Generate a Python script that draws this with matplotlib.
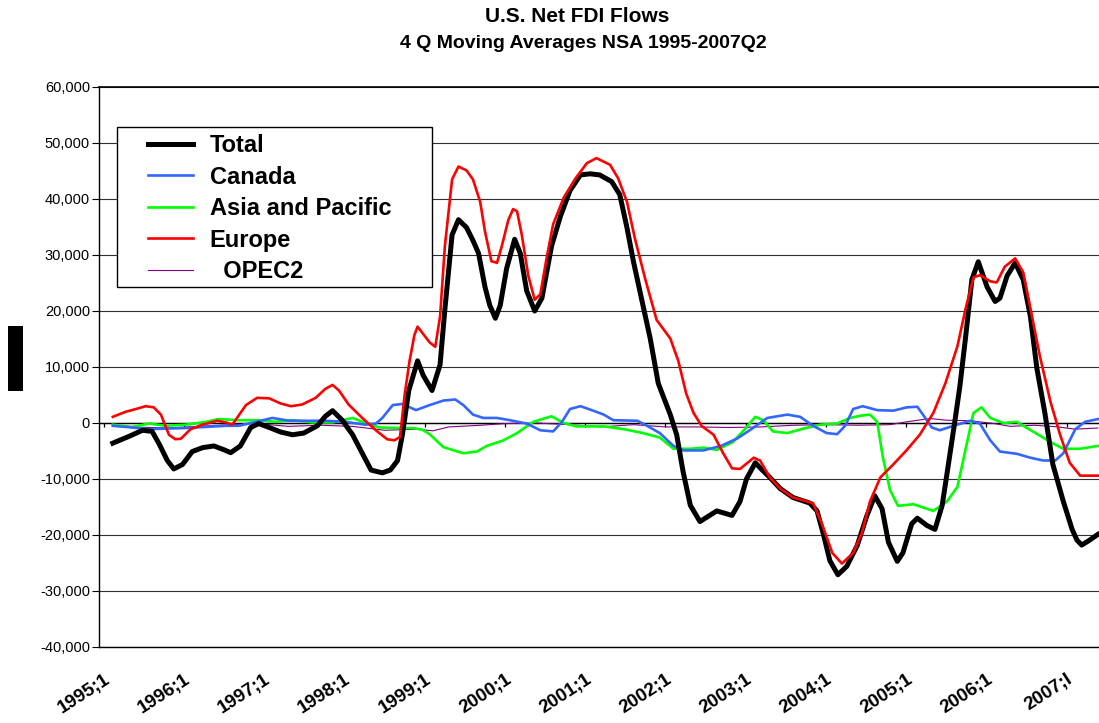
from typing import *
import matplotlib
matplotlib.use('Agg')
import matplotlib.pyplot as plt
from matplotlib.lines import Line2D
from matplotlib.patches import Rectangle
from matplotlib.ticker import FuncFormatter

plt.rcParams['font.family'] = ['Liberation Sans', 'DejaVu Sans']

# (decimal year, millions of dollars)
total: List[Tuple[float, float]] = [
    (1995.11, -3600), (1995.31, -2400), (1995.48, -1300), (1995.60, -1500), (1995.69, -3800),
    (1995.79, -6700), (1995.87, -8200), (1995.98, -7400), (1996.10, -5100), (1996.23, -4400),
    (1996.37, -4100), (1996.50, -4800), (1996.58, -5300), (1996.70, -4100), (1996.83, -800),
    (1996.93, -100), (1997.06, -800), (1997.20, -1600), (1997.35, -2100), (1997.49, -1800),
    (1997.66, -500), (1997.76, 1200), (1997.85, 2200), (1997.97, 500), (1998.10, -2100),
    (1998.22, -5400), (1998.33, -8400), (1998.47, -8900), (1998.57, -8400), (1998.66, -6700),
    (1998.72, -2100), (1998.80, 5800), (1998.91, 11100), (1998.98, 8500), (1999.09, 5800),
    (1999.19, 10400), (1999.25, 20300), (1999.34, 33600), (1999.42, 36300), (1999.52, 34900),
    (1999.60, 32600), (1999.67, 30300), (1999.75, 24300), (1999.81, 21000), (1999.88, 18700),
    (1999.94, 21000), (2000.02, 27600), (2000.12, 32800), (2000.19, 30300), (2000.27, 23600),
    (2000.37, 20000), (2000.46, 22300), (2000.58, 31600), (2000.69, 36900), (2000.81, 41500),
    (2000.94, 44300), (2001.06, 44500), (2001.18, 44300), (2001.33, 43100), (2001.43, 40800),
    (2001.52, 34900), (2001.60, 28900), (2001.70, 22300), (2001.81, 15100), (2001.91, 7100),
    (2002.06, 1500), (2002.14, -2100), (2002.22, -8700), (2002.31, -14700), (2002.43, -17600),
    (2002.54, -16600), (2002.64, -15700), (2002.83, -16500), (2002.93, -14000), (2003.01, -10000),
    (2003.12, -7100), (2003.20, -8300), (2003.30, -9700), (2003.43, -11700), (2003.59, -13300),
    (2003.80, -14300), (2003.89, -15700), (2003.97, -19900), (2004.05, -24600), (2004.15, -27100),
    (2004.26, -25600), (2004.39, -21900), (2004.51, -16600), (2004.61, -13000), (2004.70, -15300),
    (2004.78, -21300), (2004.89, -24700), (2004.96, -23200), (2005.07, -18000), (2005.14, -17000),
    (2005.26, -18300), (2005.36, -19000), (2005.45, -14700), (2005.52, -8100), (2005.61, 500),
    (2005.67, 6500), (2005.74, 15100), (2005.82, 25600), (2005.90, 28800), (2006.01, 24300),
    (2006.11, 21700), (2006.17, 22300), (2006.26, 26300), (2006.36, 28600), (2006.46, 25600),
    (2006.55, 19000), (2006.63, 9800), (2006.73, 1800), (2006.83, -7400), (2006.96, -14000),
    (2007.07, -19000), (2007.13, -20900), (2007.19, -21800), (2007.29, -20900), (2007.39, -19900),
]

canada: List[Tuple[float, float]] = [
    (1995.11, -500), (1995.35, -800), (1995.56, -1100), (1995.77, -1000), (1996.02, -900),
    (1996.27, -700), (1996.52, -500), (1996.68, -500), (1996.89, 200), (1997.10, 900),
    (1997.31, 400), (1997.51, 400), (1997.76, 400), (1998.01, 200), (1998.26, -300),
    (1998.39, -100), (1998.47, 900), (1998.60, 3200), (1998.72, 3400), (1998.89, 2300),
    (1999.06, 3200), (1999.23, 4000), (1999.38, 4200), (1999.48, 3200), (1999.60, 1500),
    (1999.73, 900), (1999.90, 900), (2000.06, 500), (2000.27, -100), (2000.44, -1300),
    (2000.60, -1500), (2000.71, 200), (2000.81, 2500), (2000.94, 3000), (2001.10, 2200),
    (2001.23, 1500), (2001.35, 500), (2001.65, 400), (2001.77, -500), (2001.93, -1800),
    (2002.10, -4100), (2002.22, -4900), (2002.47, -4900), (2002.69, -4100), (2002.89, -2800),
    (2003.05, -1300), (2003.27, 900), (2003.52, 1500), (2003.68, 1100), (2003.84, -500),
    (2004.01, -1800), (2004.14, -2000), (2004.24, -500), (2004.34, 2500), (2004.46, 3000),
    (2004.64, 2300), (2004.84, 2200), (2005.01, 2800), (2005.14, 2900), (2005.21, 1500),
    (2005.32, -800), (2005.42, -1300), (2005.59, -500), (2005.80, 400), (2005.92, -100),
    (2006.05, -3100), (2006.17, -5100), (2006.38, -5500), (2006.55, -6200), (2006.71, -6700),
    (2006.86, -6700), (2006.96, -5400), (2007.11, -1100), (2007.23, 200), (2007.39, 700),
]

asia_pacific: List[Tuple[float, float]] = [
    (1995.11, -300), (1995.35, -700), (1995.56, -100), (1995.77, -500), (1996.02, -300),
    (1996.27, 200), (1996.43, 700), (1996.68, 500), (1996.93, 500), (1997.14, 200),
    (1997.35, 500), (1997.60, 100), (1997.85, 100), (1998.10, 900), (1998.26, 0),
    (1998.43, -800), (1998.68, -900), (1998.85, -900), (1998.97, -1200), (1999.06, -2000),
    (1999.23, -4300), (1999.48, -5400), (1999.65, -5100), (1999.77, -4100), (1999.98, -3100),
    (2000.15, -1800), (2000.35, 200), (2000.58, 1200), (2000.73, 0), (2000.89, -600),
    (2001.23, -600), (2001.48, -1100), (2001.72, -1800), (2001.93, -2600), (2002.10, -4600),
    (2002.31, -4600), (2002.47, -4400), (2002.64, -4800), (2002.84, -3400), (2002.99, -1100),
    (2003.12, 1100), (2003.22, 500), (2003.34, -1500), (2003.52, -1800), (2003.72, -1000),
    (2003.93, -300), (2004.14, -100), (2004.30, 900), (2004.43, 1300), (2004.55, 1500),
    (2004.64, 200), (2004.71, -6100), (2004.80, -12000), (2004.90, -14800), (2005.09, -14500),
    (2005.34, -15700), (2005.51, -14000), (2005.64, -11400), (2005.74, -4800), (2005.84, 1800),
    (2005.94, 2800), (2006.05, 900), (2006.21, 0), (2006.38, 200), (2006.58, -1500),
    (2006.80, -3400), (2006.96, -4600), (2007.17, -4600), (2007.39, -4100),
]

europe: List[Tuple[float, float]] = [
    (1995.11, 1100), (1995.27, 2000), (1995.40, 2500), (1995.52, 3000), (1995.62, 2800),
    (1995.71, 1500), (1995.81, -2100), (1995.89, -2900), (1995.96, -2800), (1996.08, -1100),
    (1996.23, -300), (1996.41, 400), (1996.52, 100), (1996.60, -300), (1996.77, 3200),
    (1996.91, 4500), (1997.06, 4400), (1997.20, 3500), (1997.33, 3000), (1997.47, 3300),
    (1997.64, 4500), (1997.76, 6100), (1997.85, 6800), (1997.93, 5800), (1998.05, 3300),
    (1998.22, 900), (1998.39, -1300), (1998.53, -2900), (1998.62, -3100), (1998.69, -2500),
    (1998.75, 5200), (1998.81, 11100), (1998.87, 15700), (1998.91, 17200), (1998.99, 15700),
    (1999.06, 14400), (1999.13, 13600), (1999.19, 19000), (1999.25, 31600), (1999.34, 43500),
    (1999.42, 45800), (1999.52, 45100), (1999.60, 43500), (1999.69, 39500), (1999.75, 34200),
    (1999.83, 28900), (1999.90, 28600), (1999.96, 31600), (2000.04, 36200), (2000.10, 38200),
    (2000.15, 37800), (2000.21, 33500), (2000.29, 26300), (2000.37, 22000), (2000.44, 23000),
    (2000.52, 29600), (2000.60, 35500), (2000.73, 40200), (2000.87, 43500), (2001.02, 46400),
    (2001.14, 47300), (2001.31, 46100), (2001.41, 43700), (2001.52, 39500), (2001.62, 32900),
    (2001.75, 25600), (2001.89, 18400), (2002.06, 15100), (2002.16, 11100), (2002.26, 5200),
    (2002.35, 1800), (2002.45, -500), (2002.60, -2100), (2002.72, -5400), (2002.83, -8100),
    (2002.93, -8200), (2003.10, -6200), (2003.18, -6700), (2003.30, -9700), (2003.43, -11700),
    (2003.59, -13300), (2003.84, -14300), (2003.95, -18000), (2004.08, -23200), (2004.20, -25100),
    (2004.34, -23200), (2004.45, -19600), (2004.55, -14000), (2004.68, -9700), (2004.84, -7400),
    (2005.01, -4800), (2005.17, -2100), (2005.34, 1800), (2005.49, 7100), (2005.64, 13700),
    (2005.74, 20300), (2005.84, 26000), (2005.92, 26400), (2006.05, 25300), (2006.13, 25100),
    (2006.23, 27900), (2006.36, 29400), (2006.46, 26900), (2006.57, 19000), (2006.67, 11800),
    (2006.80, 3800), (2006.92, -2100), (2007.04, -7100), (2007.17, -9400), (2007.39, -9400),
]

opec2: List[Tuple[float, float]] = [
    (1995.11, -600), (1995.80, -900), (1996.30, -500), (1996.90, -100), (1997.30, -600),
    (1997.70, -400), (1998.10, -600), (1998.50, -1300), (1998.90, -1100), (1999.10, -1400),
    (1999.30, -700), (1999.70, -400), (2000.00, -100), (2000.40, 0), (2000.80, -300),
    (2001.20, -700), (2001.60, -300), (2002.00, -700), (2002.40, -700), (2002.80, -800),
    (2003.20, -700), (2003.60, -400), (2004.00, -300), (2004.40, -400), (2004.80, -300),
    (2005.00, 200), (2005.30, 800), (2005.50, 500), (2005.80, 400), (2006.10, -100),
    (2006.30, -600), (2006.60, -400), (2006.90, -700), (2007.10, -1100), (2007.39, -900),
]

series_names: List[str] = ['Total', 'Canada', 'Asia and Pacific', 'Europe', '  OPEC2']
series_colors: List[str] = ['#000000', '#3366ff', '#00ff00', '#ff0000', '#800080']
series_widths: List[float] = [3.6, 1.9, 1.9, 1.9, 0.8]

year_ticks: List[int] = list(range(1995, 2008))
year_labels: List[str] = ['{};1'.format(y) for y in range(1995, 2007)] + ['2007;l']
y_ticks: List[int] = list(range(-40000, 60001, 10000))

W, H = 1099, 723


def unzip(pts: List[Tuple[float, float]]) -> Tuple[List[float], List[float]]:
    xs: List[float] = list(map(lambda p: p[0], pts))
    ys: List[float] = list(map(lambda p: p[1], pts))
    return xs, ys


fig = plt.figure(figsize=(W / 100, H / 100), dpi=100)
ax = fig.add_axes([99 / W, 1 - 647 / H, 1000 / W, 560 / H])

# horizontal gridlines, drawn under the series
for yv in y_ticks:
    ax.axhline(yv, color='#303030', lw=0.8, zorder=1)

all_series = [total, canada, asia_pacific, europe, opec2]
# draw order: thin ones first, Total and Europe on top
for i in [4, 2, 1, 0, 3]:
    xs, ys = unzip(all_series[i])
    ax.plot(xs, ys, color=series_colors[i], lw=series_widths[i], zorder=3 + (i in (0, 3)),
            solid_joinstyle='round')

ax.set_xlim(1994.938, 2007.405)
ax.set_ylim(-40000, 60000)

# category axis crosses at zero: small ticks hanging from the zero line
ax.axhline(0, color='black', lw=1.0, zorder=2)
ax.vlines(year_ticks, -800, 0, color='black', lw=0.9, zorder=2)

ax.set_yticks(y_ticks)
ax.yaxis.set_major_formatter(FuncFormatter(lambda v, p: '{:,.0f}'.format(v)))
ax.tick_params(axis='y', direction='out', length=5, width=0.8, labelsize=10.5, pad=1.5,
               colors='black')

ax.set_xticks(year_ticks)
ax.set_xticklabels(year_labels, rotation=33, ha='right', va='top', rotation_mode='anchor',
                   fontsize=13.5, fontweight='bold')
ax.tick_params(axis='x', length=0, pad=17)

ax.spines['right'].set_visible(False)
ax.spines['left'].set_linewidth(1.0)
ax.spines['top'].set_linewidth(1.2)
ax.spines['bottom'].set_linewidth(1.0)

fig.text(577 / W, 1 - 17 / H, 'U.S. Net FDI Flows', ha='center', va='center',
         fontsize=15, fontweight='bold')
fig.text(583 / W, 1 - 44 / H, '4 Q Moving Averages NSA 1995-2007Q2', ha='center',
         va='center', fontsize=14, fontweight='bold')

# legend box
fig.patches.append(Rectangle((117 / W, 1 - 287 / H), 315 / W, 160 / H, transform=fig.transFigure,
                             facecolor='white', edgecolor='black', lw=1.0, zorder=4))
handles = [Line2D([], [], color=c, lw=w) for c, w in zip(series_colors, series_widths)]
leg = fig.legend(handles, series_names, loc='upper left',
                 bbox_to_anchor=(148 / W, 1 - 134 / H), bbox_transform=fig.transFigure,
                 frameon=False, borderpad=0, borderaxespad=0, handlelength=1.9,
                 handletextpad=0.72, labelspacing=0.36,
                 prop={'size': 17, 'weight': 'bold'})
leg.set_zorder(5)

# black block at the left edge
fig.patches.append(Rectangle((8 / W, 1 - 391 / H), 15 / W, 65 / H, transform=fig.transFigure,
                             facecolor='black', edgecolor='none', zorder=4))

plt.savefig('out.png', dpi=100)
